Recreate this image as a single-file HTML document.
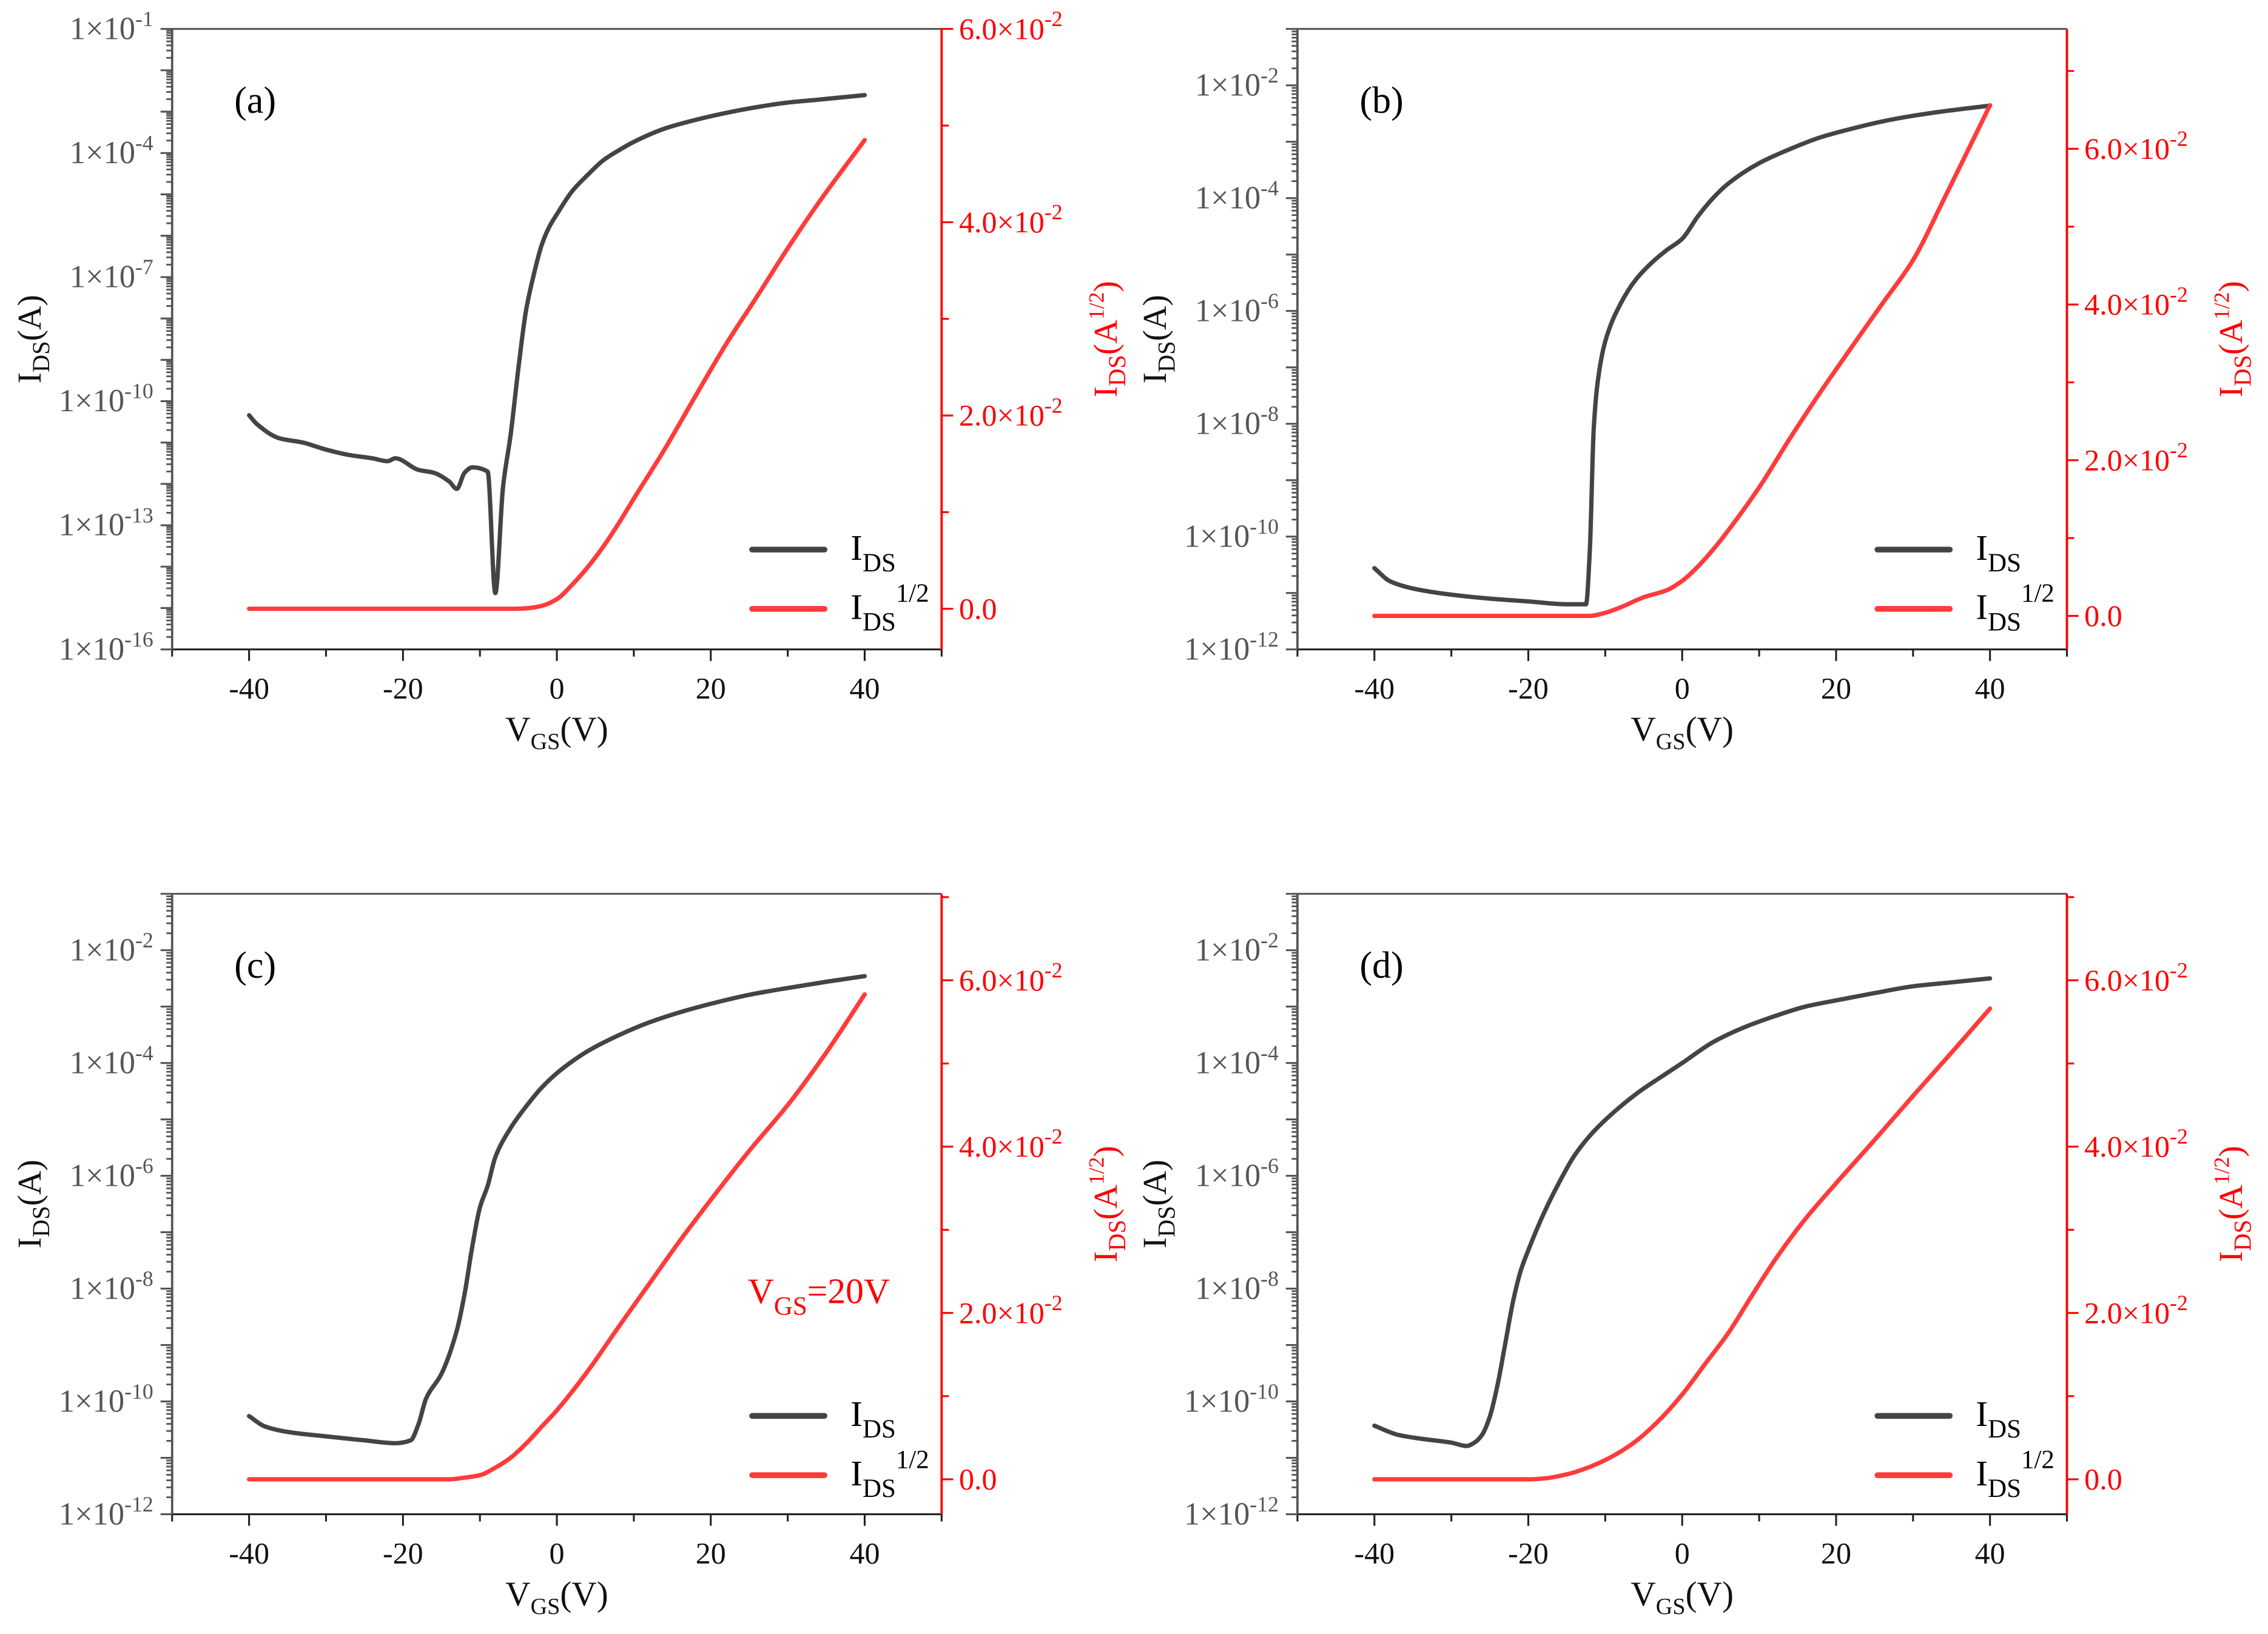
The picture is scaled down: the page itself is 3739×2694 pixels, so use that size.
<!DOCTYPE html>
<html><head><meta charset="utf-8"><title>Transfer characteristics</title>
<style>html,body{margin:0;padding:0;background:#fff;}svg,svg text{font-family:"Liberation Serif","DejaVu Serif",serif;}</style>
</head><body>
<svg id="fig" xmlns="http://www.w3.org/2000/svg" width="3739" height="2689" viewBox="0 0 1568 1127.7" preserveAspectRatio="none" font-family="Liberation Serif, DejaVu Serif, serif"></svg>
<script>
// ---- data (V in volts; logI = log10 of I_DS in A; sqrtI in A^1/2) ----
const V_a=[-40,-39,-36,-33,-30,-27,-24,-22,-21,-18,-16,-14,-13,-12,-11,-9,-8,-7,-6,-5,-4,-3,-2,-1,0,2,4,6,8,10,14,18,22,26,30,34,40];
const logI_a=[-10.34,-10.55,-10.9,-11.0,-11.17,-11.3,-11.38,-11.45,-11.38,-11.66,-11.73,-11.94,-12.12,-11.73,-11.6,-11.7,-14.64,-12.08,-10.8,-9.2,-7.8,-6.94,-6.24,-5.79,-5.48,-4.92,-4.53,-4.18,-3.94,-3.73,-3.41,-3.2,-3.03,-2.89,-2.78,-2.71,-2.6];
const Vs_a=[-40,-20,-6,-4,-2,0,2,4,6,8,10,14,18,22,26,30,34,40];
const sqrtI_a=[0,0,0,0.00005,0.0003,0.001,0.0025,0.0043,0.0064,0.0088,0.0114,0.0165,0.022,0.0274,0.0323,0.0373,0.042,0.0485];

const V_b=[-40,-38,-35,-30,-25,-20,-15,-12.5,-12,-11.5,-11,-10,-8,-6,-4,-2,0,2,4,6,10,14,18,22,26,30,34,40];
const logI_b=[-10.56,-10.79,-10.92,-11.03,-11.1,-11.15,-11.2,-11.2,-10.23,-8.1,-7.28,-6.54,-5.87,-5.44,-5.15,-4.92,-4.72,-4.33,-4.0,-3.74,-3.38,-3.13,-2.92,-2.77,-2.64,-2.54,-2.46,-2.36];
const Vs_b=[-40,-12,-10,-8,-5,-2,0,2,4,6,10,14,18,22,26,30,34,40];
const sqrtI_b=[0,0,0.0004,0.0011,0.0024,0.0033,0.0045,0.0063,0.0085,0.011,0.0165,0.0228,0.0288,0.0345,0.0401,0.0457,0.0535,0.0656];

const V_c=[-40,-38,-35,-30,-25,-21,-19,-18,-17,-15,-13,-12,-11,-10,-9,-8,-6,-4,-2,0,2,4,8,12,16,20,25,30,35,40];
const logI_c=[-10.26,-10.44,-10.54,-10.62,-10.69,-10.74,-10.69,-10.41,-9.95,-9.51,-8.74,-8.1,-7.26,-6.56,-6.18,-5.67,-5.15,-4.77,-4.44,-4.18,-3.97,-3.79,-3.51,-3.28,-3.1,-2.95,-2.79,-2.67,-2.56,-2.46];
const Vs_c=[-40,-14,-12,-10,-8,-6,-4,-2,0,4,8,12,16,20,25,30,35,40];
const sqrtI_c=[0,0,0.0002,0.0005,0.0014,0.0026,0.0043,0.0063,0.0083,0.013,0.0183,0.0235,0.0287,0.0336,0.0395,0.045,0.0513,0.0583];

const V_d=[-40,-37,-34,-30,-28,-27,-26,-25,-24,-23,-22,-21,-20,-18,-16,-14,-12,-10,-6,-2,0,4,8,12,16,20,25,30,35,40];
const logI_d=[-10.43,-10.59,-10.66,-10.73,-10.79,-10.73,-10.59,-10.27,-9.71,-8.98,-8.24,-7.69,-7.32,-6.67,-6.12,-5.64,-5.29,-5.01,-4.55,-4.18,-4.0,-3.63,-3.37,-3.17,-3.0,-2.89,-2.76,-2.64,-2.57,-2.5];
const Vs_d=[-40,-20,-18,-15,-12,-9,-6,-3,0,3,6,9,12,16,20,25,30,35,40];
const sqrtI_d=[0,0,0.0001,0.0006,0.0015,0.0028,0.0046,0.0071,0.0102,0.0139,0.0176,0.022,0.0263,0.0313,0.0356,0.0408,0.0461,0.0513,0.0566];

const xTicks=[-40,-20,0,20,40];
const xMinor=[-50,-30,-10,10,30,50];
const logTicks_a=[-16,-13,-10,-7,-4,-1];
const logTicks_bcd=[-12,-10,-8,-6,-4,-2];
const rightTicks=[0,0.02,0.04,0.06];
const rightLabels=["0.0","2.0×10","4.0×10","6.0×10"];
const panelLetters=["(a)","(b)","(c)","(d)"];

const NS="http://www.w3.org/2000/svg";
const svg=document.getElementById('fig');
function mk(tag,attrs,parent){const e=document.createElementNS(NS,tag);for(const k in attrs)e.setAttribute(k,attrs[k]);(parent||svg).appendChild(e);return e;}

// monotone cubic (Fritsch-Carlson) path through screen points
function smoothPath(xs,ys){
  const n=xs.length; if(n<2) return '';
  const d=[],m=new Array(n).fill(0);
  for(let i=0;i<n-1;i++) d.push((ys[i+1]-ys[i])/(xs[i+1]-xs[i]));
  m[0]=d[0]; m[n-1]=d[n-2];
  for(let i=1;i<n-1;i++){ if(d[i-1]*d[i]<=0) m[i]=0; else { const w1=2*(xs[i+1]-xs[i])+(xs[i]-xs[i-1]), w2=(xs[i+1]-xs[i])+2*(xs[i]-xs[i-1]); m[i]=(w1+w2)/(w1/d[i-1]+w2/d[i]); } }
  let p='M'+xs[0].toFixed(2)+','+ys[0].toFixed(2);
  for(let i=0;i<n-1;i++){
    const h=xs[i+1]-xs[i];
    p+=' C'+(xs[i]+h/3).toFixed(2)+','+(ys[i]+m[i]*h/3).toFixed(2)+' '+(xs[i+1]-h/3).toFixed(2)+','+(ys[i+1]-m[i+1]*h/3).toFixed(2)+' '+xs[i+1].toFixed(2)+','+ys[i+1].toFixed(2);
  }
  return p;
}

const panels=[
 {L:119,T:20,logMin:-16,logMax:-1,sMin:-0.0042,sMax:0.06,logT:logTicks_a,V:V_a,I:logI_a,Vs:Vs_a,S:sqrtI_a,leg:380,note:false},
 {L:897,T:20,logMin:-12,logMax:-1,sMin:-0.0043,sMax:0.0754,logT:logTicks_bcd,V:V_b,I:logI_b,Vs:Vs_b,S:sqrtI_b,leg:380,note:false},
 {L:119,T:618,logMin:-12,logMax:-1,sMin:-0.0042,sMax:0.0704,logT:logTicks_bcd,V:V_c,I:logI_c,Vs:Vs_c,S:sqrtI_c,leg:979,note:true},
 {L:897,T:618,logMin:-12,logMax:-1,sMin:-0.0042,sMax:0.0704,logT:logTicks_bcd,V:V_d,I:logI_d,Vs:Vs_d,S:sqrtI_d,leg:979,note:false}
];
const W=532,H=429;
const GRAY="#555", BLK="#444", RED="#ff0000", REDL="#ff3b3b";

panels.forEach((p,i)=>{
  const g=mk('g',{});
  
  
  const B=p.T+H, R=p.L+W;
  const xS=v=>p.L+(v+50)/100*W;
  const yL=l=>B-(l-p.logMin)/(p.logMax-p.logMin)*H;
  const yR=s=>B-(s-p.sMin)/(p.sMax-p.sMin)*H;

  const top=mk('line',{x1:p.L,y1:p.T,x2:R,y2:p.T,stroke:GRAY,'stroke-width':1.3},g);
  
  
  const bx=mk('line',{x1:p.L,y1:B,x2:R,y2:B,stroke:'#222','stroke-width':1.3},g);
  
  
  const ly=mk('line',{x1:p.L,y1:p.T,x2:p.L,y2:B,stroke:GRAY,'stroke-width':1.6},g);
  
  
  const ry=mk('line',{x1:R,y1:p.T,x2:R,y2:B,stroke:RED,'stroke-width':1.6},g);
  
  

  xTicks.forEach(v=>{
    mk('line',{x1:xS(v),y1:B,x2:xS(v),y2:B+8,stroke:'#222','stroke-width':1.3},g);
    const t=mk('text',{x:xS(v),y:B+34,'text-anchor':'middle','font-size':21,fill:'#111'},g);
    t.textContent=v;
    
    
  });
  xMinor.forEach(v=>mk('line',{x1:xS(v),y1:B,x2:xS(v),y2:B+5,stroke:'#222','stroke-width':1.3},g));

  for(let d=p.logMin; d<p.logMax; d++){
    for(let k=2;k<=9;k++){const y=yL(d+Math.log10(k)); if(y>=p.T) mk('line',{x1:p.L-4,y1:y,x2:p.L,y2:y,stroke:GRAY,'stroke-width':1.2},g);}
  }
  for(let d=p.logMin; d<=p.logMax; d++){const y=yL(d); mk('line',{x1:p.L-8,y1:y,x2:p.L,y2:y,stroke:GRAY,'stroke-width':1.3},g);}
  p.logT.forEach(d=>{
    const t=mk('text',{x:p.L-13,y:yL(d)+7,'text-anchor':'end','font-size':22,fill:GRAY},g);
    
    
    const a=mk('tspan',{},t); a.textContent='1×10';
    const s=mk('tspan',{dy:-9,'font-size':15},t); s.textContent=String(d);
  });

  for(let s=0; s<=p.sMax+1e-9; s+=0.01){
    const y=yR(s), major=Math.round(s*100)%2===0;
    mk('line',{x1:R,y1:y,x2:R+(major?8:5),y2:y,stroke:RED,'stroke-width':1.3},g);
  }
  rightTicks.forEach((s,j)=>{
    const t=mk('text',{x:R+12,y:yR(s)+7,'font-size':21,fill:RED},g);
    
    
    const a=mk('tspan',{},t); a.textContent=rightLabels[j];
    if(j>0){const e=mk('tspan',{dy:-9,'font-size':15},t); e.textContent='-2';}
  });

  const xt=mk('text',{x:xS(0),y:B+63,'text-anchor':'middle','font-size':24,fill:'#111'},g);
  
  
  mk('tspan',{},xt).textContent='V';
  mk('tspan',{dy:6,'font-size':16},xt).textContent='GS';
  mk('tspan',{dy:-6},xt).textContent='(V)';

  const cy=p.T+H/2;
  const lt=mk('text',{x:0,y:0,transform:`translate(${p.L-91},${cy}) rotate(-90)`,'text-anchor':'middle','font-size':23,fill:'#111'},g);
  
  
  mk('tspan',{},lt).textContent='I';
  mk('tspan',{dy:6,'font-size':17},lt).textContent='DS';
  mk('tspan',{dy:-6},lt).textContent='(A)';

  const rt=mk('text',{x:0,y:0,transform:`translate(${R+121},${cy}) rotate(-90)`,'text-anchor':'middle','font-size':23,fill:RED},g);
  
  
  mk('tspan',{},rt).textContent='I';
  mk('tspan',{dy:6,'font-size':17},rt).textContent='DS';
  mk('tspan',{dy:-6},rt).textContent='(A';
  mk('tspan',{dy:-9,'font-size':15},rt).textContent='1/2';
  mk('tspan',{dy:9},rt).textContent=')';

  const pl=mk('text',{x:p.L+43,y:p.T+58,'font-size':26,fill:'#000'},g);
  pl.textContent=panelLetters[i];
  
  

  const sI=mk('path',{d:smoothPath(p.V.map(xS),p.I.map(yL)),fill:'none',stroke:BLK,'stroke-width':3,'stroke-linejoin':'round','stroke-linecap':'round'},g);
  
  
  const sS=mk('path',{d:smoothPath(p.Vs.map(xS),p.S.map(yR)),fill:'none',stroke:REDL,'stroke-width':3,'stroke-linejoin':'round','stroke-linecap':'round'},g);
  
  

  const lx=p.L+401;
  const l1=mk('line',{x1:lx,y1:p.leg,x2:lx+50,y2:p.leg,stroke:BLK,'stroke-width':4,'stroke-linecap':'round'},g);
  
  
  const t1=mk('text',{x:lx+68,y:p.leg+7,'font-size':25,fill:'#000'},g);
  
  
  mk('tspan',{},t1).textContent='I';
  mk('tspan',{dy:8,'font-size':18},t1).textContent='DS';
  const l2=mk('line',{x1:lx,y1:p.leg+41,x2:lx+50,y2:p.leg+41,stroke:REDL,'stroke-width':4,'stroke-linecap':'round'},g);
  
  
  const t2=mk('text',{x:lx+68,y:p.leg+48,'font-size':25,fill:'#000'},g);
  
  
  mk('tspan',{},t2).textContent='I';
  mk('tspan',{dy:8,'font-size':18},t2).textContent='DS';
  mk('tspan',{dy:-20,'font-size':18},t2).textContent='1/2';

  if(p.note){
    const n=mk('text',{x:p.L+398,y:p.T+283,'font-size':25,fill:RED},g);
    
    
    mk('tspan',{},n).textContent='V';
    mk('tspan',{dy:8,'font-size':18},n).textContent='GS';
    mk('tspan',{dy:-8},n).textContent='=20V';
  }
});
</script>
</body></html>
